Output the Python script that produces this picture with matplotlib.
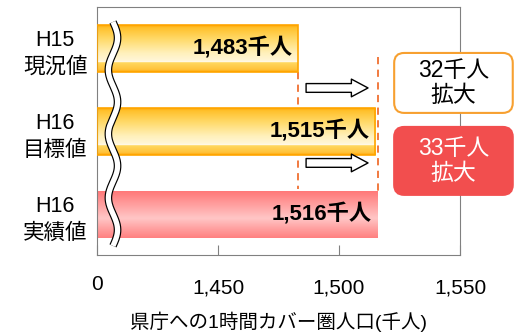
import numpy as np
import matplotlib
matplotlib.use("Agg")
import matplotlib.pyplot as plt
import matplotlib.transforms as mtransforms
from matplotlib.colors import LinearSegmentedColormap
from matplotlib.patches import FancyBboxPatch

plt.rcParams['font.family'] = ['Liberation Sans', 'Noto Sans CJK JP', 'DejaVu Sans']

# --- données ---
categories = ["H15\n現況値", "H16\n目標値", "H16\n実績値"]
values = [1483, 1515, 1516]
value_labels = ["1,483千人", "1,515千人", "1,516千人"]
tick_values = [1400, 1450, 1500, 1550]
tick_labels = ["0", "1,450", "1,500", "1,550"]
box_texts = ["32千人\n拡大", "33千人\n拡大"]
xlabel = "県庁への1時間カバー圏人口(千人)"

X0 = 1400
fig = plt.figure(figsize=(5.14, 3.36), dpi=100)
ax = fig.add_axes([97 / 514, 1 - 255 / 336, 363 / 514, 248 / 336])
ax.set_xlim(X0, 1550)
ax.set_ylim(2.49, -0.5)

orange_cmap = LinearSegmentedColormap.from_list("or", [
    (0.0, "#FFA200"), (0.05, "#FFC02A"), (0.3, "#FFDA6A"), (0.6, "#FFF1BC"),
    (0.76, "#FFF6D8"), (0.78, "#FFFFFF"), (0.8, "#FFD860"), (0.95, "#FFC23A"), (1.0, "#FFA200")])
red_cmap = LinearSegmentedColormap.from_list("rd", [
    (0.0, "#FF7878"), (0.25, "#FF9A9A"), (0.58, "#FFC6C6"), (0.8, "#FFA0A0"), (1.0, "#FF8080")])

bar_h = 0.56
grad = np.linspace(0, 1, 256).reshape(-1, 1)
bars = ax.barh(range(len(values)), [v - X0 for v in values], left=X0, height=bar_h,
               color="none", zorder=2)
for i, b in enumerate(bars):
    cmap = red_cmap if i == 2 else orange_cmap
    y0 = i - bar_h / 2
    im = ax.imshow(grad, cmap=cmap, aspect="auto", extent=(X0, values[i], i + bar_h / 2, y0),
                   origin="upper", zorder=2)
    im.set_clip_path(b)
    if i < 2:
        b.set_edgecolor("#FFA500")
        b.set_linewidth(1.2)
        b.set_zorder(3)
    ax.annotate(value_labels[i], (values[i], i), xytext=(-4, 0), textcoords="offset points",
                ha="right", va="center", fontsize=16, fontweight="bold", zorder=5)

ax.set_xticks(tick_values)
ax.set_xticklabels(tick_labels, fontsize=15)
ax.tick_params(axis="x", direction="in", length=7, pad=17, color="#808080")
ax.set_yticks(range(len(categories)))
ax.set_yticklabels(categories, fontsize=15.5, ha="center", linespacing=1.35)
ax.tick_params(axis="y", length=0, pad=30)
ax.set_xlabel(xlabel, fontsize=14, labelpad=10)
for s in ax.spines.values():
    s.set_color("#808080")

# le "0" un peu plus haut
lbl0 = ax.get_xticklabels()[0]
lbl0.set_transform(lbl0.get_transform() + mtransforms.ScaledTranslation(0, 4 / 100, fig.dpi_scale_trans))

# ligne de coupure ondulée
yy = np.linspace(-0.32, 2.38, 300)
xx = 1406.6 + 1.9 * np.sin((yy + 0.32) / 2.7 * 2 * np.pi * 3.5)
ax.plot(xx, yy, color="black", lw=5.5, zorder=6, solid_capstyle="butt")
ax.plot(xx, yy, color="white", lw=3.8, zorder=7, solid_capstyle="butt")

# lignes pointillées
ax.plot([values[0], values[0]], [0.28, 1.70], color="#F07030", lw=1.3, ls=(0, (4, 3)), zorder=1)
ax.plot([values[2], values[2]], [0.10, 1.76], color="#F07030", lw=1.3, ls=(0, (4, 3)), zorder=1)

# flèches
for ya in [0.476, 1.38]:
    ax.annotate("", xy=(1512, ya), xytext=(1486.4, ya),
                arrowprops=dict(arrowstyle="simple,head_length=0.8,head_width=0.85,tail_width=0.42",
                                fc="white", ec="black", lw=1.0, mutation_scale=15,
                                shrinkA=0, shrinkB=0), zorder=4)

# encadrés
fig.canvas.draw()
px_x = ax.transData.transform((1, 0))[0] - ax.transData.transform((0, 0))[0]
px_y = abs(ax.transData.transform((0, 1))[1] - ax.transData.transform((0, 0))[1])
r = 10 / px_x
boxes = [(0.054, 0.777, "white", "#F7A030", "black"),
         (0.946, 1.765, "#F24E4E", "#F24E4E", "white")]
for (yb0, yb1, fc, ec, tc), txt in zip(boxes, box_texts):
    xb0, xb1 = 1522.8, 1571.8
    p = FancyBboxPatch((xb0 + r, yb0 + r * px_x / px_y), xb1 - xb0 - 2 * r, yb1 - yb0 - 2 * r * px_x / px_y,
                       boxstyle=f"round,pad={r},rounding_size={r}", mutation_aspect=px_x / px_y,
                       fc=fc, ec=ec, lw=1.5, clip_on=False, zorder=8)
    ax.add_patch(p)
    ax.text((xb0 + xb1) / 2, (yb0 + yb1) / 2, txt, ha="center", va="center", fontsize=16.5,
            color=tc, linespacing=1.15, zorder=9, clip_on=False)

fig.savefig("out.png", dpi=100)
